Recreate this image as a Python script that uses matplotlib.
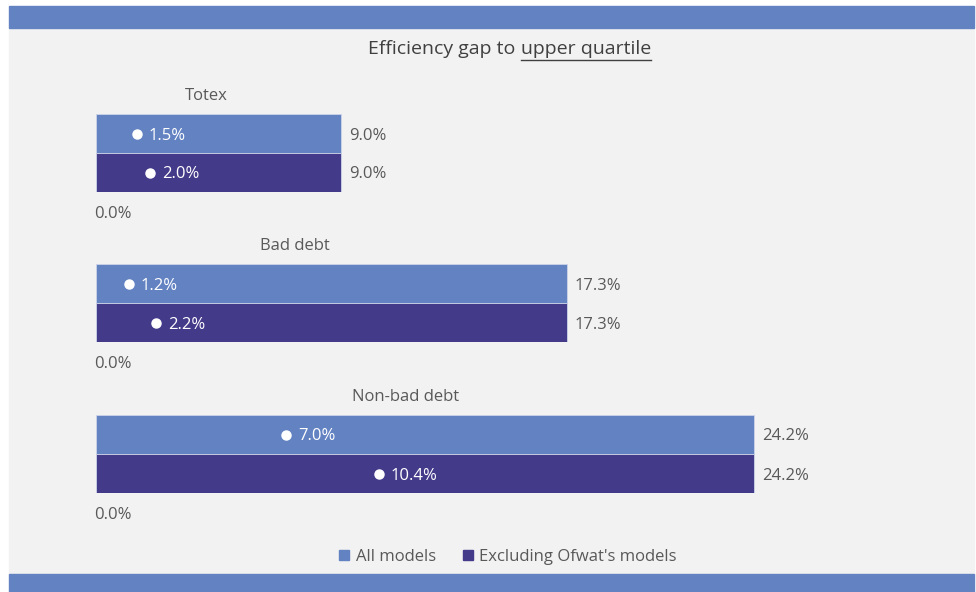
import matplotlib.pyplot as plt
from matplotlib.patches import Rectangle, Patch
from matplotlib.lines import Line2D

plt.rcParams['font.family'] = ['Open Sans', 'DejaVu Sans']

groups = ['Totex', 'Bad debt', 'Non-bad debt']
series = ['All models', "Excluding Ofwat's models"]
# bar length: total gap for each cost area
total_all = [9.0, 17.3, 24.2]
total_excl = [9.0, 17.3, 24.2]
# marker: efficiency gap to upper quartile
gap_all = [1.5, 1.2, 7.0]
gap_excl = [2.0, 2.2, 10.4]

LIGHT = '#6282C2'
DARK = '#443A8A'
PANEL = '#F2F2F2'
GREY = '#595959'

W, H = 976, 592
fig = plt.figure(figsize=(W / 100, H / 100), dpi=100)
fig.patch.set_facecolor('white')


def fx(x):
    return x / W


def fy(y):
    return 1 - y / H


# background panel with coloured bands
for (x0, y0, w, h, c) in [(9, 574, 965, 546, PANEL),
                          (9, 28, 965, 22, LIGHT),
                          (9, 592, 965, 18, LIGHT)]:
    fig.patches.append(Rectangle((fx(x0), fy(y0)), fx(w), h / H, color=c,
                                 transform=fig.transFigure, zorder=-10))

# title, with the second half underlined
fig.text(fx(515), fy(49), 'Efficiency gap to', ha='right', va='center',
         fontsize=14, color='#404040')
t2 = fig.text(fx(521), fy(49), 'upper quartile', ha='left', va='center',
              fontsize=14, color='#404040')

px_per_pct = 27.2
ax_left, ax_width = 96, 760
bar_tops = [114, 264, 415]
title_cx = [206, 295, 406]

for i, g in enumerate(groups):
    top = bar_tops[i]
    ax = fig.add_axes([fx(ax_left), fy(top + 78), fx(ax_width), 78 / H])
    ax.set_xlim(0, ax_width / px_per_pct)
    ax.set_ylim(1.5, -0.5)
    ax.axis('off')

    totals = [total_all[i], total_excl[i]]
    gaps = [gap_all[i], gap_excl[i]]
    ax.barh([0, 1], totals, height=1.0, color=[LIGHT, DARK],
            edgecolor='#CDD4EA', linewidth=0.6)
    for y, (tot, gp) in enumerate(zip(totals, gaps)):
        ax.annotate(f'{tot:.1f}%', xy=(tot, y), xytext=(8, -2),
                    textcoords='offset pixels', ha='left', va='center',
                    fontsize=12, color=GREY)
        ax.plot(gp, y, 'o', color='white', markersize=6.5, zorder=3)
        ax.annotate(f'{gp:.1f}%', xy=(gp, y), xytext=(12, -2),
                    textcoords='offset pixels', ha='left', va='center',
                    fontsize=12, color='white')

    ax.annotate('0.0%', xy=(0, 1.5), xytext=(-2, -22),
                textcoords='offset pixels', ha='left', va='center',
                fontsize=12, color=GREY, annotation_clip=False)
    fig.text(fx(title_cx[i]), fy(top - 18), g, ha='center', va='center',
             fontsize=12, color=GREY)

handles = [Patch(color=LIGHT), Patch(color=DARK)]
fig.legend(handles, series, loc='center', bbox_to_anchor=(fx(508), fy(557)),
           ncol=2, frameon=False, fontsize=12, labelcolor=GREY,
           handlelength=0.6, handleheight=0.6, handletextpad=0.4,
           columnspacing=1.6)

# underline "upper quartile"
fig.canvas.draw()
bb = t2.get_window_extent(fig.canvas.get_renderer())
fig.lines.append(Line2D([bb.x0 / W, bb.x1 / W], [fy(60)] * 2, color='#404040',
                       linewidth=1.0, transform=fig.transFigure))

fig.savefig('out.png', dpi=100, facecolor=fig.get_facecolor())
